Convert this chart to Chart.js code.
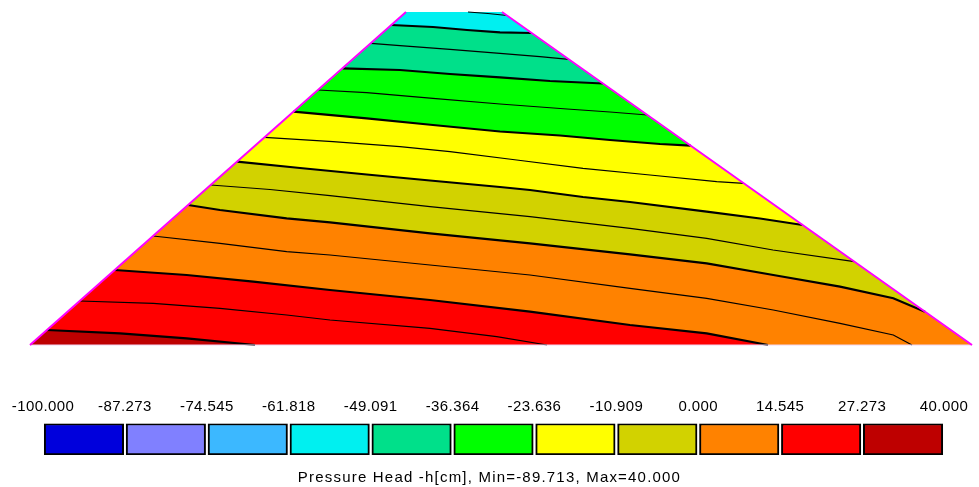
<!DOCTYPE html>
<html>
<head>
<meta charset="utf-8">
<script src="https://cdn.jsdelivr.net/npm/chart.js@4/dist/chart.umd.min.js"></script>
<style>
  html, body { margin: 0; padding: 0; background: #fff; }
  #wrap { position: relative; width: 979px; height: 487px; overflow: hidden; }
  #dam { position: absolute; left: 0; top: 0; }
  #bar { position: absolute; left: 0; top: 360px; }
  #caption {
    position: absolute; left: 0; top: 467px; width: 979px;
    text-align: center; color: #000;
    font: 15px "Liberation Sans", Arial, sans-serif;
    letter-spacing: 1.2px; line-height: 19px;
  }
</style>
</head>
<body>
<div id="wrap">
  <canvas id="dam" width="979" height="360"></canvas>
  <canvas id="bar" width="979" height="110"></canvas>
  <div id="caption">Pressure Head -h[cm], Min=-89.713, Max=40.000</div>
</div>
<script>
// Dam cross-section: x along the base, z = height (upstream toe at the origin)
const damOutline = [[0, 0], [942, 0], [472, 333], [376, 333]];

// Pressure-head contours h [cm]; each runs left to right from the upstream face
const contourM55_455 = [[438, 333], [458, 331.5], [477, 329.5]];
const contourM49_091 = [[361.3, 320], [403, 318], [437, 315], [470, 312.7], [501.6, 312]];
const contourM42_727 = [[341, 301.7], [370, 299.3], [420, 295.7], [470, 291.7], [510, 288.3], [538.8, 285.7]];
const contourM36_364 = [[312.6, 276.7], [370, 275], [420, 271], [470, 267.7], [520, 264], [572.9, 261.5]];
const contourM30_000 = [[288, 255], [336.7, 252.3], [403, 246.7], [470, 241], [537, 236], [580, 233], [617.4, 230]];
const contourM23_636 = [[263.4, 233.3], [336.7, 226.7], [403, 220], [470, 213.5], [530, 209.5], [580, 205], [630, 201], [660.7, 199.3]];
const contourM17_273 = [[234.6, 207.7], [303, 203.3], [370, 198.3], [420, 193.3], [486.7, 185], [553, 176.7], [620, 170], [686.7, 163.3], [713.8, 161.7]];
const contourM10_909 = [[207, 183.3], [270, 177], [336.7, 170.5], [400, 164.5], [470, 158], [500, 155], [553, 148], [600, 143], [676.7, 133.3], [730, 126.5], [772.6, 120]];
const contourM05_455 = [[180.7, 160], [240, 155.5], [300, 149.3], [400, 138.3], [500, 128.3], [600, 116.7], [676.7, 106.7], [743, 95], [824.4, 83.3]];
const contour00_000 = [[158.1, 140], [190, 135], [256.7, 126.7], [300, 122.7], [400, 111.7], [500, 101.7], [600, 90.7], [676.7, 81.7], [743.3, 70], [810, 58.3], [863.3, 46.7], [895, 33.3]];
const contour07_273 = [[123.1, 109], [190, 101.7], [256.7, 93.3], [300, 90], [400, 80], [500, 70], [600, 56.7], [676.7, 46.7], [743.3, 35], [810, 21.7], [863.3, 10], [882, 0]];
const contour14_545 = [[84.7, 75], [156.7, 70], [223.3, 63.3], [300, 55], [400, 45], [500, 33.3], [600, 20], [676.7, 11.7], [738, 0]];
const contour20_909 = [[49.7, 44], [123.3, 41.7], [190, 36.7], [256.7, 30], [300, 25], [400, 16.7], [466.7, 8.3], [517, 0]];
const contour27_273 = [[16.9, 15], [90, 11.7], [156.7, 6.7], [225, 0]];

// Band boundaries (thick) and mid-band contours (thin)
const majorContours = [contourM49_091, contourM36_364, contourM23_636, contourM10_909, contour00_000, contour14_545, contour27_273];
const minorContours = [contourM55_455, contourM42_727, contourM30_000, contourM17_273, contourM05_455, contour07_273, contour20_909];

// Fill of the top band, then of each band below a thick contour
const bandColors = ['#00F0F0', '#00E08A', '#00FF00', '#FFFF00', '#D2D200', '#FF8200', '#FF0000', '#BE0000'];

// Colour scale
const legendLabels = ['-100.000', '-87.273', '-74.545', '-61.818', '-49.091', '-36.364', '-23.636', '-10.909', '0.000', '14.545', '27.273', '40.000'];
const legendColors = ['#0000DC', '#8080FF', '#3CB8FF', '#00F0F0', '#00E08A', '#00FF00', '#FFFF00', '#D2D200', '#FF8200', '#FF0000', '#BE0000'];

const toXY = pts => pts.map(([x, z]) => ({ x, y: z }));

// Part of the section lying below a contour: contour, downstream face, base, upstream face
function regionBelow(line) {
  const pts = toXY(line);
  const end = line[line.length - 1];
  if (end[1] > 0) pts.push({ x: damOutline[1][0], y: damOutline[1][1] });
  pts.push({ x: damOutline[0][0], y: damOutline[0][1] });
  return pts;
}

const fillSet = (data, color, order) => ({
  data, order, fill: 'shape', backgroundColor: color,
  borderColor: 'rgba(0,0,0,0)', borderWidth: 0, pointRadius: 0, tension: 0
});
const strokeSet = (data, color, width, order) => ({
  data, order, fill: false, borderColor: color, borderWidth: width,
  pointRadius: 0, tension: 0
});

const damDatasets = [];
damDatasets.push(fillSet(toXY(damOutline), bandColors[0], 50));
majorContours.forEach((c, i) => damDatasets.push(fillSet(regionBelow(c), bandColors[i + 1], 40 - i)));
minorContours.forEach(c => damDatasets.push(strokeSet(toXY(c), '#000', 1.2, 5)));
majorContours.forEach(c => damDatasets.push(strokeSet(toXY(c), '#000', 2.2, 4)));
damDatasets.push(strokeSet(toXY([damOutline[0], damOutline[1]]), '#F0D4F0', 1, 2));
damDatasets.push(strokeSet(toXY([damOutline[0], damOutline[3]]), '#FF00FF', 2, 1));
damDatasets.push(strokeSet(toXY([damOutline[1], damOutline[2]]), '#FF00FF', 2, 1));

new Chart(document.getElementById('dam'), {
  type: 'line',
  data: { datasets: damDatasets },
  options: {
    responsive: false,
    animation: false,
    events: [],
    layout: { padding: 0 },
    plugins: { legend: { display: false }, tooltip: { enabled: false } },
    scales: {
      x: { type: 'linear', display: false, min: -30, max: 949 },
      y: { type: 'linear', display: false, min: -15, max: 345 }
    }
  }
});

// Colour scale boxes with the level values at their boundaries
const textFont = { family: '"Liberation Sans", Arial, sans-serif', size: 15 };
const spacing = {
  id: 'spacing',
  beforeLayout(c) { c.ctx.letterSpacing = '0.4px'; },
  beforeDraw(c) { c.ctx.letterSpacing = '0.4px'; }
};

new Chart(document.getElementById('bar'), {
  type: 'bar',
  data: {
    labels: [''],
    datasets: legendColors.map((color, i) => ({
      data: [[i + 0.015, i + 0.985]],
      backgroundColor: color,
      borderColor: '#000',
      borderWidth: 2,
      borderSkipped: false,
      grouped: false,
      barPercentage: 1,
      categoryPercentage: 1
    }))
  },
  plugins: [spacing],
  options: {
    indexAxis: 'y',
    responsive: false,
    animation: false,
    events: [],
    layout: { padding: { left: 43, right: 35, top: 32, bottom: 15 } },
    plugins: { legend: { display: false }, tooltip: { enabled: false } },
    scales: {
      x: {
        type: 'linear', position: 'top', min: 0, max: legendLabels.length - 1,
        grid: { display: false, drawTicks: false },
        border: { display: false },
        ticks: {
          stepSize: 1, autoSkip: false, maxRotation: 0, padding: 8,
          color: '#000', font: textFont,
          callback: v => legendLabels[v]
        }
      },
      y: { display: false }
    }
  }
});
</script>
</body>
</html>
